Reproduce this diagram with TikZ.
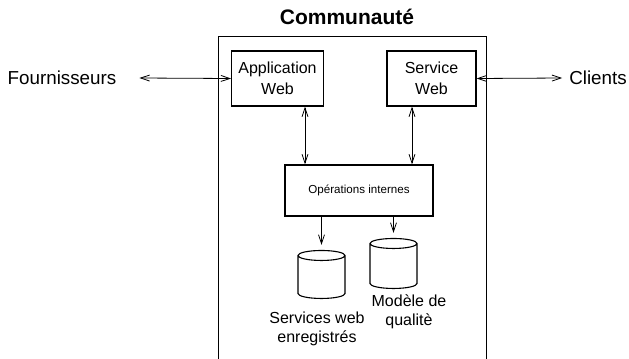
\documentclass[tikz,border=0pt]{standalone}
\usepackage{fontspec}
\setmainfont{Liberation Sans}
\usetikzlibrary{shapes.geometric, arrows.meta, positioning}

\tikzset{
  bloc/.style={draw, line width=0.55pt, rectangle, align=center, font=\fontsize{8}{10.5}\selectfont},
  base/.style={draw, line width=0.55pt, cylinder, shape border rotate=90, aspect=0.75},
  lien/.style={line width=0.4pt, {Straight Barb[length=4.5pt,width=3pt]}-{Straight Barb[length=4.5pt,width=3pt]}},
  fleche/.style={line width=0.4pt, -{Straight Barb[length=4.5pt,width=3pt]}},
}

\begin{document}
\begin{tikzpicture}[x=0.5pt, y=-0.5pt]
  \useasboundingbox (0,0) rectangle (629,359);

  % la communaute
  \node[font=\fontsize{10.5}{12}\selectfont\bfseries] (titre) at (347,17) {Communauté};
  \draw[line width=0.5pt] (219,362) -- (219,36) -- (487,36) -- (487,362);

  % boites
  \node[bloc, minimum width=44.5pt, minimum height=27.5pt] (appli) at (277.5,78.5) {Application\\Web};
  \node[bloc, minimum width=44.5pt, minimum height=27.5pt] (service) at (431.5,78.5) {Service\\Web};
  \node[bloc, minimum width=74pt, minimum height=25.5pt, font=\fontsize{5.8}{7}\selectfont] (ops) at (359,190.5) {Opérations internes};

  % bases de donnees
  \node[base, minimum width=23.5pt, minimum height=24pt] (registre) at (321.5,279) {};
  \node[base, minimum width=23.5pt, minimum height=25pt] (qualite) at (393.5,268) {};
  \node[align=center, font=\fontsize{8}{9.5}\selectfont] (lregistre) at (317,329) {Services web\\enregistrés};
  \node[align=center, font=\fontsize{8}{9.5}\selectfont] (lqualite) at (409,312) {Modèle de\\qualitè};

  % acteurs
  \node[font=\fontsize{9.4}{11}\selectfont] (fourn) at (62,78) {Fournisseurs};
  \node[font=\fontsize{9.4}{11}\selectfont] (clients) at (598,78) {Clients};

  % liens
  \draw[lien] ([xshift=8pt]fourn.east) -- (appli.west);
  \draw[lien] (service.east) -- (clients.west);
  \draw[lien] ([xshift=13.75pt]appli.south) -- ([xshift=13.75pt]appli.south |- ops.north);
  \draw[lien] ([xshift=-9.75pt]service.south) -- ([xshift=-9.75pt]service.south |- ops.north);
  \draw[fleche] (ops.south -| registre.north) -- ([yshift=2.5pt]registre.north);
  \draw[fleche] (ops.south -| qualite.north) -- ([yshift=2.5pt]qualite.north);
\end{tikzpicture}
\end{document}
